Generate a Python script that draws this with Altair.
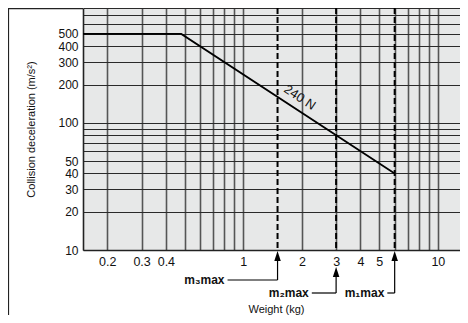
import altair as alt
import pandas as pd

# ---- data ----
curve_weight = [0.15, 0.48, 6.0]
curve_accel = [500, 500, 40]
force_label = "240 N"
force_label_weight = [1.95]
force_label_accel = [158]

m_names = ["m₃max", "m₂max", "m₁max"]
m_weight = [1.5, 3.0, 6.0]
m_leader_end = [0.83, 2.25, 5.5]

x_grid = [0.2, 0.3, 0.4, 0.5, 0.6, 0.7, 0.8, 0.9, 1, 2, 3, 4, 5, 6, 7, 8, 9, 10]
x_labels = [0.2, 0.3, 0.4, 1, 2, 3, 4, 5, 10]
y_grid = [10, 20, 30, 40, 50, 60, 70, 80, 90, 100, 200, 300, 400, 500, 600, 700, 800]
y_labels = [10, 20, 30, 40, 50, 100, 200, 300, 400, 500]

# ---- layout ----
W, H = 377, 242
FONT = "Liberation Sans, Arial, DejaVu Sans"
arrow_tip = [243, 259, 243]
arrow_bottom = [272, 285, 285]

xs = alt.Scale(type="log", domain=[0.15, 13])
ys = alt.Scale(type="log", domain=[10, 800])


def lab_expr(vals):
    arr = ",".join(str(v) for v in vals)
    return f"indexof([{arr}], datum.value) >= 0 ? format(datum.value, '~g') : ''"


x_axis = alt.Axis(
    values=x_grid, labelExpr=lab_expr(x_labels), title="Weight (kg)",
    ticks=False, labelPadding=5, labelFontSize=12.5, labelFont=FONT, labelColor="#111",
    labelFlush=False, labelOverlap=False,
    grid=True, gridColor="#555555", gridWidth=1.6,
    domain=True, domainColor="#222222", domainWidth=1.6,
    titleFont=FONT, titleFontSize=11, titleFontWeight="normal", titleColor="#111",
    titleX=193, titleY=59, titleBaseline="middle", titleAlign="center",
)
y_axis = alt.Axis(
    values=y_grid, labelExpr=lab_expr(y_labels), title="Collision deceleration (m/s²)",
    ticks=False, labelPadding=5, labelFontSize=12, labelFont=FONT, labelColor="#111",
    labelFlush=False, labelOverlap=False,
    grid=True, gridColor="#2a2a2a", gridWidth=1.2,
    domain=True, domainColor="#222222", domainWidth=1.6,
    titleFont=FONT, titleFontSize=11, titleFontWeight="normal", titleColor="#111",
    titleX=-47, titleY=121, titleAngle=-90, titleAlign="center", titleBaseline="bottom",
)

fdf = pd.DataFrame({"z": [0]})

curve = pd.DataFrame({"w": curve_weight, "a": curve_accel})
line = alt.Chart(curve).mark_line(color="black", strokeWidth=1.8, clip=True).encode(
    x=alt.X("w:Q", scale=xs, axis=x_axis),
    y=alt.Y("a:Q", scale=ys, axis=y_axis),
)

mdf = pd.DataFrame({"w": m_weight})
dashes = alt.Chart(mdf).mark_rule(color="black", strokeWidth=2, strokeDash=[6, 3]).encode(
    x=alt.X("w:Q", scale=xs, axis=x_axis),
)

ldf = pd.DataFrame({"w": force_label_weight, "a": force_label_accel, "t": [force_label]})
label = alt.Chart(ldf).mark_text(angle=33.5, fontSize=13, font=FONT, color="#111").encode(
    x=alt.X("w:Q", scale=xs, axis=x_axis),
    y=alt.Y("a:Q", scale=ys, axis=y_axis),
    text="t:N",
)

layers = [line, dashes, label]
arrow_path = "M0,-1L0.65,1L-0.65,1Z"
for i in range(len(m_weight)):
    d = pd.DataFrame({"w": [m_weight[i]], "e": [m_leader_end[i]], "t": [m_names[i]]})
    tip, bot = arrow_tip[i], arrow_bottom[i]
    base = alt.Chart(d)
    layers.append(base.mark_rule(color="black", strokeWidth=1.2).encode(
        x=alt.X("w:Q", scale=xs, axis=x_axis), y=alt.value(tip + 5), y2=alt.value(bot)))
    layers.append(base.mark_rule(color="black", strokeWidth=1.2).encode(
        x=alt.X("w:Q", scale=xs, axis=x_axis), x2="e:Q", y=alt.value(bot)))
    layers.append(base.mark_point(shape=arrow_path, size=100, filled=True, color="black",
                                  opacity=1, strokeWidth=0).encode(
        x=alt.X("w:Q", scale=xs, axis=x_axis), y=alt.value(tip + 5)))
    layers.append(base.mark_text(align="right", baseline="middle", dx=-3, fontSize=12,
                                 fontWeight="bold", font=FONT, color="#111").encode(
        x=alt.X("e:Q", scale=xs, axis=x_axis), y=alt.value(bot), text="t:N"))

frame_v = alt.Chart(fdf).mark_rule(color="#222", strokeWidth=1.2).encode(
    x=alt.value(-74.5), y=alt.value(0), y2=alt.value(307))
frame_h = alt.Chart(fdf).mark_rule(color="#222", strokeWidth=1.2).encode(
    x=alt.value(-74.5), x2=alt.value(0), y=alt.value(0.6))
layers += [frame_v, frame_h]

chart = alt.layer(*layers).properties(
    width=W, height=H,
    padding={"left": 75, "top": 0, "right": 0, "bottom": 65},
    autosize="none",
).configure(
    background="white",
    view=alt.ViewConfig(fill="#e7e8e8", strokeWidth=0),
)

chart.save("out.html", embed_options={"renderer": "svg", "actions": False})
